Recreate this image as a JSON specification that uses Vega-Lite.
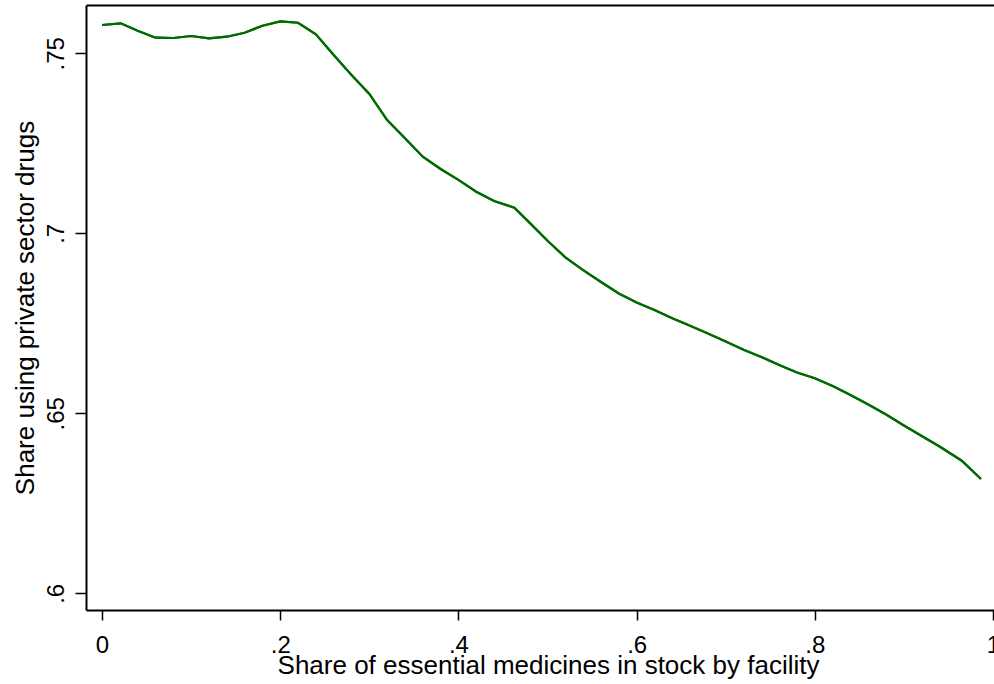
{
  "$schema": "https://vega.github.io/schema/vega-lite/v6.json",
  "autosize": {"type": "none"},
  "padding": {"left": 86, "top": 5, "right": 0, "bottom": 74},
  "width": 908,
  "height": 605,
  "background": "white",
  "config": {
    "view": {"stroke": null},
    "font": "Liberation Sans",
    "axis": {
      "grid": false,
      "domainColor": "black",
      "domainWidth": 2,
      "tickColor": "black",
      "tickWidth": 1.5,
      "labelFont": "Liberation Sans",
      "labelFontSize": 24,
      "labelColor": "black",
      "titleFont": "Liberation Sans",
      "titleFontSize": 26,
      "titleFontWeight": "normal",
      "titleColor": "black"
    }
  },
  "data": {
    "values": [
      {"x": 0.0, "y": 0.75786},
      {"x": 0.021, "y": 0.75833},
      {"x": 0.04, "y": 0.75628},
      {"x": 0.06, "y": 0.75433},
      {"x": 0.08, "y": 0.75425},
      {"x": 0.10, "y": 0.7548},
      {"x": 0.12, "y": 0.75417},
      {"x": 0.14, "y": 0.75461},
      {"x": 0.16, "y": 0.75572},
      {"x": 0.18, "y": 0.75767},
      {"x": 0.20, "y": 0.75889},
      {"x": 0.22, "y": 0.7585},
      {"x": 0.24, "y": 0.75528},
      {"x": 0.26, "y": 0.74953},
      {"x": 0.28, "y": 0.74397},
      {"x": 0.30, "y": 0.7387},
      {"x": 0.32, "y": 0.73147},
      {"x": 0.34, "y": 0.72639},
      {"x": 0.36, "y": 0.72128},
      {"x": 0.38, "y": 0.71786},
      {"x": 0.40, "y": 0.71483},
      {"x": 0.42, "y": 0.71156},
      {"x": 0.44, "y": 0.70897},
      {"x": 0.4628, "y": 0.70711},
      {"x": 0.48, "y": 0.7029},
      {"x": 0.50, "y": 0.69794},
      {"x": 0.52, "y": 0.69333},
      {"x": 0.54, "y": 0.68975},
      {"x": 0.56, "y": 0.68647},
      {"x": 0.58, "y": 0.6833},
      {"x": 0.60, "y": 0.68078},
      {"x": 0.62, "y": 0.67869},
      {"x": 0.64, "y": 0.67642},
      {"x": 0.66, "y": 0.67433},
      {"x": 0.68, "y": 0.67217},
      {"x": 0.70, "y": 0.66994},
      {"x": 0.72, "y": 0.66764},
      {"x": 0.74, "y": 0.66564},
      {"x": 0.76, "y": 0.66342},
      {"x": 0.78, "y": 0.66133},
      {"x": 0.80, "y": 0.65972},
      {"x": 0.82, "y": 0.65758},
      {"x": 0.84, "y": 0.65508},
      {"x": 0.86, "y": 0.65244},
      {"x": 0.88, "y": 0.64967},
      {"x": 0.90, "y": 0.64661},
      {"x": 0.92, "y": 0.64369},
      {"x": 0.94, "y": 0.64078},
      {"x": 0.9649, "y": 0.63683},
      {"x": 0.9865, "y": 0.63175}
    ]
  },
  "resolve": {"axis": {"x": "independent"}},
  "layer": [
    {
      "mark": {"type": "line", "color": "#006b00", "strokeWidth": 2.2, "clip": true},
      "encoding": {
        "x": {
          "field": "x", "type": "quantitative",
          "scale": {"domain": [-0.018, 1.0011], "nice": false, "zero": false},
          "axis": {
            "values": [0, 0.2, 0.4, 0.6, 0.8, 1],
            "labelExpr": "datum.value == 0 ? '0' : datum.value == 1 ? '1' : replace(format(datum.value, '.1f'), '0.', '.')",
            "labelFlush": false,
            "labelOverlap": false,
            "labelPadding": 13,
            "tickSize": 10,
            "title": "Share of essential medicines in stock by facility",
            "titleX": 462,
            "titlePadding": -5
          }
        },
        "y": {
          "field": "y", "type": "quantitative",
          "scale": {"domain": [0.59536, 0.76342], "nice": false, "zero": false},
          "axis": {
            "values": [0.6, 0.65, 0.7, 0.75],
            "labelExpr": "replace(format(datum.value, '.2~f'), '0.', '.')",
            "labelAngle": -90,
            "labelFlush": false,
            "labelOverlap": false,
            "labelPadding": 7,
            "tickSize": 11,
            "title": "Share using private sector drugs",
            "titlePadding": 6
          }
        }
      }
    },
    {
      "mark": {"type": "line", "color": "#006b00", "strokeWidth": 2.2, "clip": true},
      "encoding": {
        "x": {
          "field": "x", "type": "quantitative",
          "scale": {"domain": [-0.018, 1.0011], "nice": false, "zero": false},
          "axis": {"orient": "top", "labels": false, "ticks": false, "title": null}
        },
        "y": {"field": "y", "type": "quantitative"}
      }
    }
  ]
}
